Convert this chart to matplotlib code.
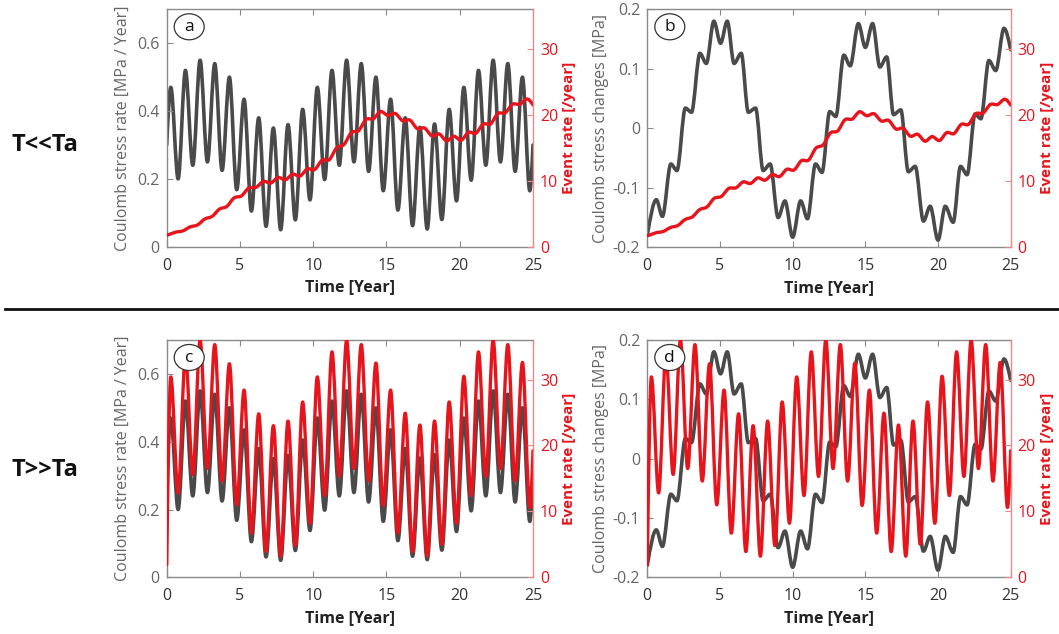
import numpy as np
import matplotlib
matplotlib.use("Agg")
import matplotlib.pyplot as plt
from matplotlib.path import Path
from matplotlib.patches import PathPatch, Ellipse

plt.rcParams['font.family'] = ['Open Sans', 'DejaVu Sans']
plt.rcParams['axes.unicode_minus'] = False

# ---------------------------------------------------------------------------
# Coulomb stress rate [MPa/yr]: turning points (peaks / troughs)
rate_t = [0.0,
          0.28, 0.78, 1.28, 1.78, 2.28, 2.78, 3.28, 3.78, 4.28, 4.78,
          5.28, 5.78, 6.28, 6.78, 7.28, 7.78, 8.28, 8.78, 9.28, 9.78,
          10.28, 10.78, 11.28, 11.78, 12.28, 12.78, 13.28, 13.78, 14.28, 14.78,
          15.28, 15.78, 16.28, 16.78, 17.28, 17.78, 18.28, 18.78, 19.28, 19.78,
          20.28, 20.78, 21.28, 21.78, 22.28, 22.78, 23.28, 23.78, 24.28, 24.78,
          25.0]
rate_v = [0.30,
          0.47, 0.200, 0.52, 0.240, 0.55, 0.250, 0.54, 0.225, 0.50, 0.168,
          0.435, 0.105, 0.38, 0.060, 0.35, 0.050, 0.36, 0.079, 0.405, 0.138,
          0.47, 0.198, 0.52, 0.240, 0.55, 0.250, 0.54, 0.222, 0.50, 0.165,
          0.435, 0.108, 0.38, 0.062, 0.352, 0.052, 0.362, 0.080, 0.405, 0.135,
          0.47, 0.196, 0.52, 0.240, 0.55, 0.250, 0.54, 0.222, 0.50, 0.165,
          0.30]

# Coulomb stress changes [MPa]: turning points
stress_t = [0.0, 0.62, 1.04, 1.62, 2.04, 2.62, 3.04, 3.62, 4.06, 4.58,
            5.04, 5.50, 5.97, 6.46, 6.95, 7.45, 7.97, 8.45, 9.00, 9.47,
            10.0, 10.55, 11.02, 11.57, 12.02, 12.55, 12.97, 13.52, 13.96, 14.52,
            15.0, 15.50, 16.0, 16.47, 16.94, 17.44, 17.96, 18.43, 19.0, 19.46,
            20.0, 20.50, 21.04, 21.55, 22.0, 22.55, 22.95, 23.50, 23.97, 24.54,
            25.0]
stress_v = [-0.180, -0.120, -0.148, -0.060, -0.071, 0.034, 0.027, 0.126, 0.109, 0.180,
            0.143, 0.180, 0.109, 0.126, 0.027, 0.034, -0.071, -0.060, -0.150, -0.122,
            -0.183, -0.122, -0.152, -0.060, -0.074, 0.028, 0.020, 0.123, 0.105, 0.176,
            0.136, 0.176, 0.103, 0.120, 0.023, 0.031, -0.073, -0.064, -0.156, -0.131,
            -0.188, -0.131, -0.158, -0.064, -0.078, 0.024, 0.016, 0.114, 0.097, 0.168,
            0.132]

# Event rate [/year], case T << Ta
slow_t = [0.0, 0.1, 0.6, 1.1, 1.6, 2.1, 2.6, 3.1, 3.6, 4.1, 4.6,
          5.1, 5.6, 6.1, 6.6, 7.1, 7.6, 8.1, 8.6, 9.1, 9.6,
          10.1, 10.6, 11.1, 11.6, 12.1, 12.6, 13.1, 13.6, 14.1, 14.6,
          15.1, 15.6, 16.1, 16.6, 17.1, 17.6, 18.1, 18.6, 19.1, 19.6,
          20.1, 20.6, 21.1, 21.6, 22.1, 22.6, 23.1, 23.6, 24.1, 24.6,
          25.0]
slow_v = [1.8, 1.8, 2.2, 2.4, 3.0, 3.3, 4.2, 4.6, 5.7, 6.1, 7.4,
          7.7, 8.9, 9.0, 9.9, 9.65, 10.5, 10.15, 11.0, 10.7, 11.8,
          11.7, 13.1, 13.2, 15.0, 15.5, 17.3, 17.6, 19.3, 19.4, 20.5,
          19.9, 20.2, 19.1, 19.2, 17.9, 18.0, 16.8, 17.1, 16.05, 16.75,
          16.15, 17.35, 17.2, 18.6, 18.6, 20.2, 20.3, 21.6, 21.6, 22.4,
          21.5]

# Event rate [/year], case T >> Ta: turning points
fast_t = rate_t
fast_v = [1.9,
          30.4, 12.8, 33.9, 15.6, 36.0, 16.5, 35.3, 14.6, 32.4, 11.0,
          28.4, 6.7, 24.8, 3.9, 23.0, 3.2, 23.7, 4.8, 26.6, 8.2,
          30.4, 12.4, 34.2, 15.3, 36.0, 16.5, 35.3, 14.6, 32.5, 10.9,
          28.4, 6.7, 24.9, 3.9, 23.1, 3.2, 23.7, 5.0, 26.6, 8.2,
          30.5, 12.4, 34.2, 15.3, 36.0, 16.5, 35.3, 14.6, 32.6, 10.6,
          19.2]

panel_letters = ['a', 'b', 'c', 'd']
row_titles = ['T<<Ta', 'T>>Ta']
x_ticks = [0, 5, 10, 15, 20, 25]
rate_ticks = [0, 0.2, 0.4, 0.6]
rate_ticklabels = ['0', '0.2', '0.4', '0.6']
stress_ticks = [-0.2, -0.1, 0, 0.1, 0.2]
stress_ticklabels = ['-0.2', '-0.1', '0', '0.1', '0.2']
event_ticks = [0, 10, 20, 30]

GRAY = '#4a4a4a'
AXGRAY = '#8a8a8a'
LBLGRAY = '#666666'
RED = '#e8141c'
REDAX = '#f08a8a'
FS = 11.5


def smooth_path(t, v, flat_turns=True):
    """Bezier path through the given points."""
    t = np.asarray(t, float)
    v = np.asarray(v, float)
    n = len(t)
    m = np.zeros(n)
    for i in range(1, n - 1):
        d0 = v[i] - v[i - 1]
        d1 = v[i + 1] - v[i]
        if d0 * d1 > 0 or not flat_turns:
            m[i] = (v[i + 1] - v[i - 1]) / (t[i + 1] - t[i - 1])
    m[0] = 1.5 * (v[1] - v[0]) / (t[1] - t[0])
    m[-1] = 1.5 * (v[-1] - v[-2]) / (t[-1] - t[-2])
    verts = [(t[0], v[0])]
    codes = [Path.MOVETO]
    for i in range(n - 1):
        h = t[i + 1] - t[i]
        verts += [(t[i] + h / 3, v[i] + m[i] * h / 3),
                  (t[i + 1] - h / 3, v[i + 1] - m[i + 1] * h / 3),
                  (t[i + 1], v[i + 1])]
        codes += [Path.CURVE4] * 3
    return Path(verts, codes)


def draw_curve(ax, t, v, color, lw, flat_turns=True):
    ax.add_patch(PathPatch(smooth_path(t, v, flat_turns), facecolor='none',
                           edgecolor=color, lw=lw, capstyle='round',
                           joinstyle='round'))


fig = plt.figure(figsize=(10.59, 6.34), dpi=100)

W, H = 1059.0, 634.0
boxes = {  # left, top, right, bottom in pixels
    'a': (166.7, 9.3, 533.0, 246.7),
    'b': (647.3, 9.3, 1010.7, 247.3),
    'c': (166.7, 340.0, 533.0, 577.3),
    'd': (647.3, 340.0, 1010.7, 577.3),
}

for letter in panel_letters:
    l, t, r, b = boxes[letter]
    ax = fig.add_axes([l / W, 1 - b / H, (r - l) / W, (b - t) / H])
    ax2 = ax.twinx()

    if letter in ('a', 'c'):
        draw_curve(ax, rate_t, rate_v, GRAY, 2.6)
        ax.set_ylim(0, 0.7)
        ax.set_yticks(rate_ticks)
        ax.set_yticklabels(rate_ticklabels)
        ax.set_ylabel('Coulomb stress rate [MPa / Year]', color=LBLGRAY,
                      fontsize=FS, labelpad=5)
    else:
        draw_curve(ax, stress_t, stress_v, GRAY, 2.6)
        ax.set_ylim(-0.2, 0.2)
        ax.set_yticks(stress_ticks)
        ax.set_yticklabels(stress_ticklabels)
        ax.set_ylabel('Coulomb stress changes [MPa]', color=LBLGRAY,
                      fontsize=FS, labelpad=3)

    if letter in ('a', 'b'):
        draw_curve(ax2, slow_t, slow_v, RED, 2.4, flat_turns=False)
    else:
        draw_curve(ax2, fast_t, fast_v, RED, 2.4)

    ax.set_xlim(0, 25)
    ax.set_xticks(x_ticks)
    ax2.set_xlim(0, 25)
    ax2.set_ylim(0, 36)
    ax2.set_yticks(event_ticks)
    ax2.set_ylabel('Event rate [/year]', color=RED, fontsize=11,
                   fontweight='bold', labelpad=3)
    ax.set_xlabel('Time [Year]', fontsize=FS, fontweight='bold',
                  color='#222222', labelpad=4)

    for s in ('left', 'top', 'bottom'):
        ax.spines[s].set_color(AXGRAY)
        ax2.spines[s].set_visible(False)
    ax.spines['right'].set_visible(False)
    ax2.spines['right'].set_color(REDAX)
    for sp in list(ax.spines.values()) + list(ax2.spines.values()):
        sp.set_linewidth(1.0)

    ax.tick_params(axis='x', direction='in', length=4, top=True,
                   color=AXGRAY, labelcolor='#333333', labelsize=FS, pad=8)
    ax.tick_params(axis='y', direction='in', length=4, color=AXGRAY,
                   labelcolor=LBLGRAY, labelsize=FS, pad=5)
    ax2.tick_params(axis='y', direction='in', length=4, color=REDAX,
                    labelcolor=RED, labelsize=FS, pad=5)

    # circled panel letter
    ax2.add_patch(Ellipse((22.5 / (r - l), 1 - 17.5 / (b - t)),
                          30 / (r - l), 26 / (b - t),
                          transform=ax2.transAxes, facecolor='white',
                          edgecolor='#333333', lw=0.9, zorder=5))
    ax2.text(22.5 / (r - l), 1 - 17.5 / (b - t), letter,
             transform=ax2.transAxes, ha='center', va='center',
             fontsize=12.5, color='#111111', zorder=6)

# row headings and separator
fig.text(12 / W, 1 - 145 / H, row_titles[0], fontsize=17, fontweight='bold',
         ha='left', va='center', color='#111111')
fig.text(12 / W, 1 - 470 / H, row_titles[1], fontsize=17, fontweight='bold',
         ha='left', va='center', color='#111111')
fig.add_artist(plt.Line2D([5 / W, 1.0], [1 - 309 / H, 1 - 309 / H],
                          color='#111111', lw=2.0, transform=fig.transFigure))

fig.savefig('out.png', dpi=100, facecolor='white')
